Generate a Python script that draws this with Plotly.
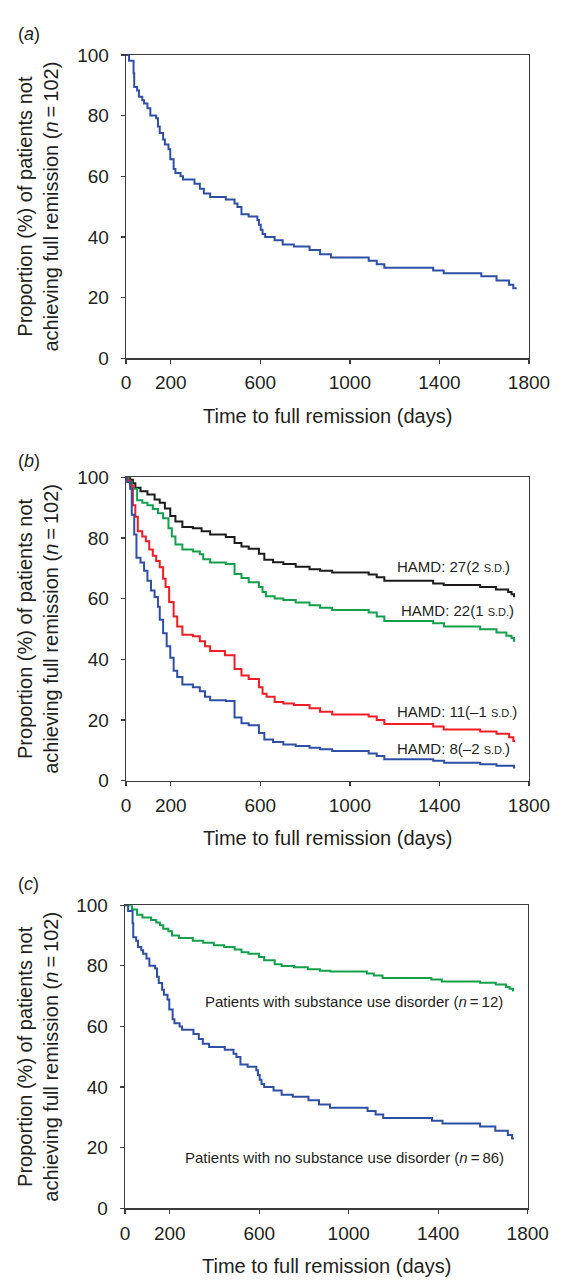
import plotly.graph_objects as go

# ---------------- data ----------------
# Panel (a): all patients (n = 102)
a_days = [14, 34, 37, 50, 58, 73, 81, 96, 109, 135, 143, 151, 166, 174, 190, 198, 213, 221,
          244, 255, 306, 330, 348, 376, 446, 485, 498, 516, 548, 587, 594, 602, 610, 622,
          664, 700, 750, 820, 867, 916, 1084, 1120, 1154, 1372, 1419, 1587, 1655, 1711, 1730]
a_pct = [98.1, 94.0, 89.4, 88.3, 86.2, 85.1, 84.0, 82.4, 80.0, 79.1, 76.4, 74.3, 72.1, 70.5,
         68.9, 65.6, 62.4, 61.1, 60.0, 58.9, 57.5, 55.9, 54.3, 53.2, 52.3, 51.0, 49.9, 47.5,
         46.7, 45.6, 44.0, 42.4, 41.0, 40.0, 38.9, 37.5, 36.8, 35.7, 34.3, 33.2, 32.1, 31.0,
         29.8, 28.9, 28.0, 27.0, 25.6, 24.2, 23.1]
a_end = 1745

# Panel (b): HAMD levels
b27_days = [19, 31, 42, 65, 96, 128, 151, 174, 198, 221, 252, 299, 338, 376, 446, 485, 516,
            548, 594, 618, 657, 703, 758, 820, 867, 921, 1084, 1120, 1154, 1372, 1419, 1582,
            1652, 1707, 1722, 1733]
b27_pct = [99.2, 98.0, 96.5, 95.4, 94.3, 92.7, 91.6, 89.7, 87.2, 85.4, 83.6, 83.2, 82.2, 81.1,
           80.3, 78.3, 77.2, 76.4, 74.8, 72.8, 72.0, 71.4, 70.5, 69.7, 69.2, 68.6, 67.9, 67.0,
           65.9, 65.0, 64.5, 63.8, 63.0, 62.2, 61.4, 60.8]
b22_days = [11, 26, 50, 73, 96, 120, 143, 166, 190, 205, 221, 252, 299, 330, 345, 376, 446,
            485, 516, 548, 594, 610, 625, 664, 703, 758, 820, 867, 921, 1084, 1120, 1154, 1372,
            1421, 1582, 1655, 1699, 1722, 1733]
b22_pct = [98.4, 96.2, 92.4, 91.6, 90.8, 89.5, 88.1, 86.5, 83.2, 80.5, 77.8, 76.2, 75.5, 74.6,
           73.0, 71.9, 71.4, 68.1, 66.8, 65.4, 63.8, 62.2, 60.8, 60.0, 59.5, 58.7, 57.8, 57.0,
           56.2, 55.4, 54.1, 52.6, 51.9, 50.8, 49.9, 48.8, 47.7, 47.0, 46.1]
b11_days = [6, 19, 31, 42, 53, 73, 89, 104, 120, 135, 151, 166, 177, 193, 213, 229, 252, 299,
            330, 353, 376, 442, 485, 516, 548, 594, 610, 628, 664, 703, 750, 820, 867, 921,
            1084, 1120, 1154, 1372, 1419, 1582, 1655, 1711, 1730]
b11_pct = [98.9, 97.3, 90.8, 87.0, 82.2, 80.5, 78.9, 76.2, 74.1, 72.4, 70.3, 66.5, 63.8, 58.9,
           54.1, 50.8, 48.1, 47.6, 45.9, 44.3, 42.7, 41.3, 36.8, 34.6, 33.5, 30.8, 28.6, 27.6,
           25.9, 25.4, 24.9, 23.8, 22.7, 21.8, 21.1, 20.0, 18.6, 17.8, 16.8, 16.2, 15.4, 14.3,
           13.0]
b8_days = [6, 19, 26, 37, 47, 65, 81, 96, 112, 128, 143, 151, 166, 182, 198, 213, 229, 252,
           299, 330, 353, 376, 446, 485, 516, 548, 594, 618, 657, 703, 758, 820, 867, 921, 1084,
           1120, 1154, 1372, 1421, 1582, 1655, 1733]
b8_pct = [98.4, 96.2, 87.6, 81.1, 73.5, 71.9, 69.2, 65.9, 62.7, 60.5, 57.3, 53.0, 48.6, 44.3,
          40.5, 36.2, 34.1, 31.7, 30.8, 29.4, 27.6, 26.5, 26.2, 20.8, 18.9, 18.2, 15.7, 13.5,
          12.7, 11.9, 11.4, 10.8, 10.3, 9.7, 8.9, 8.1, 7.0, 6.5, 5.9, 5.4, 4.9, 4.3]
b_end = 1738

# Panel (c): substance use disorder
c_sud_days = [31, 54, 78, 117, 140, 156, 171, 194, 210, 241, 303, 350, 397, 443, 490, 521, 552,
              599, 622, 669, 700, 755, 817, 871, 918, 1081, 1112, 1151, 1369, 1416, 1587, 1657,
              1703, 1719, 1734]
c_sud_pct = [98.6, 96.8, 95.9, 95.1, 94.3, 93.4, 92.2, 91.4, 90.0, 89.2, 88.3, 87.6, 86.8, 86.2,
             85.4, 84.5, 84.0, 82.9, 81.8, 80.5, 79.9, 79.5, 78.9, 78.4, 78.1, 77.5, 76.8, 76.0,
             75.5, 74.8, 74.4, 73.8, 73.0, 72.4, 71.9]
c_no_days = [14, 34, 37, 50, 58, 73, 81, 96, 109, 135, 143, 151, 166, 174, 190, 198, 213, 221,
             244, 255, 306, 330, 348, 376, 446, 485, 498, 516, 548, 587, 594, 602, 610, 622,
             664, 700, 750, 820, 867, 916, 1084, 1120, 1154, 1372, 1419, 1587, 1655, 1711, 1730]
c_no_pct = [98.1, 94.0, 89.4, 88.3, 86.2, 85.1, 84.0, 82.4, 80.0, 79.1, 76.4, 74.3, 72.1, 70.5,
            68.9, 65.6, 62.4, 61.1, 60.0, 58.9, 57.5, 55.9, 54.3, 53.2, 52.3, 51.0, 49.9, 47.5,
            46.7, 45.6, 44.0, 42.4, 41.0, 40.0, 38.9, 37.5, 36.8, 35.7, 34.3, 33.2, 32.1, 31.0,
            29.8, 28.9, 28.0, 27.0, 25.6, 24.2, 23.1]
c_end = 1738

x_ticks = [0, 200, 600, 1000, 1400, 1800]
y_ticks = [0, 20, 40, 60, 80, 100]

# ---------------- styling ----------------
W, H = 571, 1288
FONT = "Liberation Sans, Arial, sans-serif"
TXT = "#231f20"
BLUE = "#2d4fa6"
GREEN = "#12a04a"
RED = "#f01d24"
BLACK = "#1c1a1a"
AXIS = "#3c3c3c"

def px(x):
    return x / W

def py(y):
    return 1 - y / H

fig = go.Figure()

def add_curve(days, pct, end, color, axis_id):
    xs = [0] + list(days) + [end]
    ys = [100] + list(pct) + [pct[-1]]
    fig.add_trace(go.Scatter(x=xs, y=ys, mode="lines", line=dict(color=color, width=2, shape="hv"),
                             xaxis="x" + axis_id, yaxis="y" + axis_id, showlegend=False,
                             hoverinfo="skip"))

add_curve(a_days, a_pct, a_end, BLUE, "")
add_curve(b27_days, b27_pct, b_end, BLACK, "2")
add_curve(b22_days, b22_pct, b_end, GREEN, "2")
add_curve(b11_days, b11_pct, b_end, RED, "2")
add_curve(b8_days, b8_pct, b_end, BLUE, "2")
add_curve(c_sud_days, c_sud_pct, c_end, GREEN, "3")
add_curve(c_no_days, c_no_pct, c_end, BLUE, "3")

# panel geometry in pixels: (left, right, top, bottom)
panels = [
    (126.7, 549.0, 45.7, 354.0),
    (126.7, 549.0, 475.0, 783.3),
    (125.7, 547.7, 910.0, 1218.3),
]

def xaxis_cfg(l, r, anchor):
    return dict(domain=[px(l), px(r)], range=[0, 1800], tickvals=x_ticks,
                ticktext=[str(v) for v in x_ticks], showline=True, linecolor=AXIS, linewidth=1.3,
                mirror=True, ticks="outside", ticklen=4, tickcolor=AXIS, tickwidth=1.3,
                showgrid=False, zeroline=False, anchor=anchor,
                tickfont=dict(family=FONT, size=19, color=TXT), ticklabelstandoff=3)

def yaxis_cfg(t, b, anchor):
    return dict(domain=[py(b), py(t)], range=[0, 100], tickvals=y_ticks,
                ticktext=[str(v) for v in y_ticks], showline=True, linecolor=AXIS, linewidth=1.3,
                mirror=True, ticks="outside", ticklen=4, tickcolor=AXIS, tickwidth=1.3,
                showgrid=False, zeroline=False, anchor=anchor,
                tickfont=dict(family=FONT, size=19, color=TXT), ticklabelstandoff=8)

layout = dict(width=W, height=H, margin=dict(l=0, r=0, t=0, b=0),
              paper_bgcolor="white", plot_bgcolor="white", showlegend=False,
              font=dict(family=FONT, color=TXT))
ids = ["", "2", "3"]
for i, (l, r, t, b) in enumerate(panels):
    layout["xaxis" + ids[i]] = xaxis_cfg(l, r, "y" + ids[i])
    layout["yaxis" + ids[i]] = yaxis_cfg(t, b, "x" + ids[i])
fig.update_layout(**layout)

ann = []
def text(x, y, s, size, xanchor="center", angle=0):
    ann.append(dict(x=px(x), y=py(y), xref="paper", yref="paper", text=s, showarrow=False,
                    xanchor=xanchor, yanchor="middle", textangle=angle,
                    font=dict(family=FONT, size=size, color=TXT)))

ytitle = "Proportion (%) of patients not<br>achieving full remission (<i>n</i>\u2009=\u2009102)"
label_offsets = [21, 17, 22]
for i, (lab, (l, r, t, b)) in enumerate(zip(["a", "b", "c"], panels)):
    text(25, t - label_offsets[i], "(<i>%s</i>)" % lab, 18)
    text(34.5, (t + b) / 2, ytitle, 20, angle=-90)
    text((l + r) / 2 + 0.5, b + 58.5, "Time to full remission (days)", 20)

sd = "<span style='font-size:11px'>S.D.</span>"
text(531.5, 566, "HAMD: 27(2 " + sd + ")", 15, xanchor="right")
text(535.5, 610.7, "HAMD: 22(1 " + sd + ")", 15, xanchor="right")
text(539.0, 712.7, "HAMD: 11(\u20131 " + sd + ")", 15, xanchor="right")
text(531.5, 750.7, "HAMD: 8(\u20132 " + sd + ")", 15, xanchor="right")
text(524.0, 1008.3, "Patients with substance use disorder (<i>n</i>\u2009=\u200912)", 15, xanchor="right")
text(524.5, 1166.7, "Patients with no substance use disorder (<i>n</i>\u2009=\u200986)", 15, xanchor="right")

fig.update_layout(annotations=ann)
fig.write_html("out.html", config={"displayModeBar": False, "staticPlot": True},
               post_script="document.body.style.margin='0';document.body.style.overflow='hidden';")
